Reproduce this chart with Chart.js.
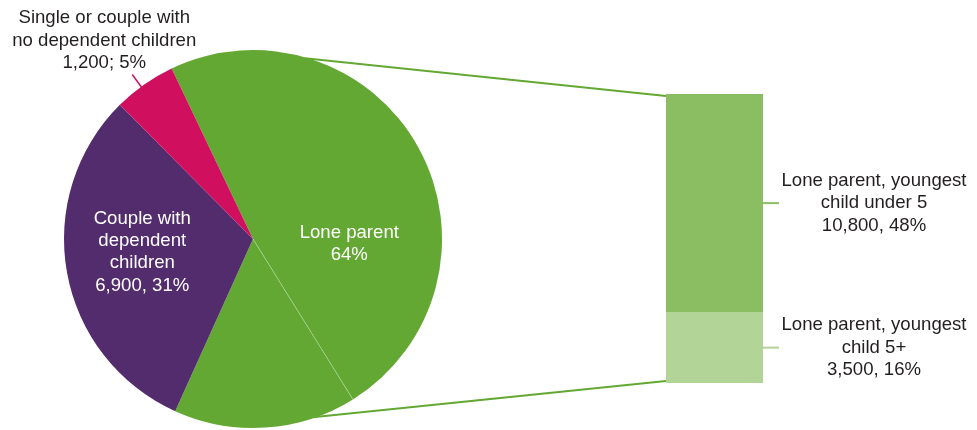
<!DOCTYPE html>
<html lang="en">
<head>
    <meta charset="UTF-8">
    <meta name="viewport" content="width=device-width">
    <script src="https://cdn.jsdelivr.net/npm/chart.js@4.4.0/dist/chart.umd.min.js"></script>
    <title>Households by type</title>
    <style>
        body {
            margin: 0;
            background: #ffffff;
        }
        .chart-container {
            position: absolute;
            left: 0;
            top: 0;
            width: 977px;
            height: 430px;
        }
        #barWrap {
            pointer-events: none;
        }
    </style>
</head>
<body>
    <div class="chart-container"><canvas id="pieChart"></canvas></div>
    <div class="chart-container" id="barWrap"><canvas id="barChart"></canvas></div>

    <script>
        // data
        const categories = [
            'Lone parent, youngest child under 5',
            'Lone parent, youngest child 5+',
            'Couple with dependent children',
            'Single or couple with no dependent children'
        ];
        const counts = [10800, 3500, 6900, 1200];
        const percents = [48, 16, 31, 5];
        const groupName = 'Lone parent';
        const groupPercent = 64;

        // label lines as they are wrapped in the picture
        const pieLabelLines = [
            ['Couple with', 'dependent', 'children', '6,900, 31%'],
            ['Single or couple with', 'no dependent children', '1,200; 5%']
        ];
        const barLabelLines = [
            ['Lone parent, youngest', 'child under 5', '10,800, 48%'],
            ['Lone parent, youngest', 'child 5+', '3,500, 16%']
        ];

        const GREEN = '#63a832';
        const PURPLE = '#522c6d';
        const PINK = '#d00f5e';
        const BAR_DARK = '#8bbe63';
        const BAR_LIGHT = '#b2d597';
        const TEXT = '#231f20';
        const FONT = '18.6px "Liberation Sans", Arial, sans-serif';
        const LINE_H = 22.3;

        function drawLines(ctx, lines, x, yMid, color) {
            ctx.save();
            ctx.font = FONT;
            ctx.fillStyle = color;
            ctx.textAlign = 'center';
            ctx.textBaseline = 'middle';
            const y0 = yMid - (lines.length - 1) * LINE_H / 2;
            lines.forEach((l, i) => ctx.fillText(l, x, y0 + i * LINE_H));
            ctx.restore();
        }

        function pointAt(arc, ang, r) {
            return { x: arc.x + Math.cos(ang) * r, y: arc.y + Math.sin(ang) * r };
        }

        const pieLabels = {
            id: 'pieLabels',
            afterDatasetsDraw(chart) {
                const ctx = chart.ctx;
                const arcs = chart.getDatasetMeta(0).data;
                const R = arcs[0].outerRadius;

                // thin divider between the two lone parent parts
                const d = pointAt(arcs[0], arcs[0].endAngle, R);
                ctx.save();
                ctx.strokeStyle = 'rgba(255,255,255,0.45)';
                ctx.lineWidth = 0.7;
                ctx.beginPath();
                ctx.moveTo(arcs[0].x, arcs[0].y);
                ctx.lineTo(d.x, d.y);
                ctx.stroke();
                ctx.restore();

                // lone parent (combined) label
                const gMid = (arcs[0].startAngle + arcs[1].endAngle) / 2;
                const gp = pointAt(arcs[0], gMid + 0.06, R * 0.51);
                drawLines(ctx, [groupName, groupPercent + '%'], gp.x, gp.y, '#ffffff');

                // couple label
                const cMid = (arcs[2].startAngle + arcs[2].endAngle) / 2;
                const cp = pointAt(arcs[2], cMid + 0.06, R * 0.59);
                drawLines(ctx, pieLabelLines[0], cp.x, cp.y, '#ffffff');

                // single label, outside with a radial leader
                const sMid = (arcs[3].startAngle + arcs[3].endAngle) / 2;
                const a = pointAt(arcs[3], sMid - 0.02, R - 1);
                const b = pointAt(arcs[3], sMid - 0.02, R + 15);
                ctx.save();
                ctx.strokeStyle = PINK;
                ctx.lineWidth = 1.5;
                ctx.beginPath();
                ctx.moveTo(a.x, a.y);
                ctx.lineTo(b.x, b.y);
                ctx.stroke();
                ctx.restore();
                drawLines(ctx, pieLabelLines[1], b.x - 28, b.y - 34, TEXT);
            }
        };

        const pieChart = new Chart(document.getElementById('pieChart'), {
            type: 'pie',
            data: {
                labels: categories,
                datasets: [{
                    data: counts,
                    backgroundColor: [GREEN, GREEN, PURPLE, PINK],
                    borderWidth: 0,
                    hoverOffset: 0
                }]
            },
            options: {
                responsive: true,
                maintainAspectRatio: false,
                animation: false,
                rotation: -25.5,
                layout: { padding: { left: 64, top: 50, right: 535, bottom: 2 } },
                plugins: {
                    legend: { display: false },
                    tooltip: { enabled: false }
                }
            },
            plugins: [pieLabels]
        });

        const barExtras = {
            id: 'barExtras',
            afterDatasetsDraw(chart) {
                const ctx = chart.ctx;
                const light = chart.getDatasetMeta(0).data[0];
                const dark = chart.getDatasetMeta(1).data[0];
                const left = dark.x - dark.width / 2;
                const right = dark.x + dark.width / 2;

                // connectors from the pie to the bar
                const arc = pieChart.getDatasetMeta(0).data[0];
                const R = arc.outerRadius;
                const topAng = (16 - 90) * Math.PI / 180;
                const botAng = (161.5 - 90) * Math.PI / 180;
                const p1 = pointAt(arc, topAng, R - 1);
                const p2 = pointAt(arc, botAng, R - 1);
                ctx.save();
                ctx.strokeStyle = GREEN;
                ctx.lineWidth = 2;
                ctx.beginPath();
                ctx.moveTo(p1.x, p1.y);
                ctx.lineTo(left, dark.y + 2);
                ctx.moveTo(p2.x, p2.y);
                ctx.lineTo(left, light.base - 2);
                ctx.stroke();
                ctx.restore();

                // leaders and labels right of the bar
                const segs = [
                    { y: (dark.y + dark.base) / 2, color: BAR_DARK, lines: barLabelLines[0] },
                    { y: (light.y + light.base) / 2, color: BAR_LIGHT, lines: barLabelLines[1] }
                ];
                segs.forEach(s => {
                    ctx.save();
                    ctx.strokeStyle = s.color;
                    ctx.lineWidth = 2;
                    ctx.beginPath();
                    ctx.moveTo(right, s.y);
                    ctx.lineTo(right + 16, s.y);
                    ctx.stroke();
                    ctx.restore();
                    drawLines(ctx, s.lines, right + 111, s.y, TEXT);
                });
            }
        };

        new Chart(document.getElementById('barChart'), {
            type: 'bar',
            data: {
                labels: [groupName],
                datasets: [
                    { label: categories[1], data: [counts[1]], backgroundColor: BAR_LIGHT },
                    { label: categories[0], data: [counts[0]], backgroundColor: BAR_DARK }
                ]
            },
            options: {
                responsive: true,
                maintainAspectRatio: false,
                animation: false,
                events: [],
                layout: { padding: { left: 666, top: 94, right: 214, bottom: 47 } },
                datasets: { bar: { barPercentage: 1, categoryPercentage: 1, borderWidth: 0 } },
                scales: {
                    x: { stacked: true, display: false },
                    y: { stacked: true, display: false, min: 0, max: counts[0] + counts[1] }
                },
                plugins: {
                    legend: { display: false },
                    tooltip: { enabled: false }
                }
            },
            plugins: [barExtras]
        });
    </script>
</body>
</html>
